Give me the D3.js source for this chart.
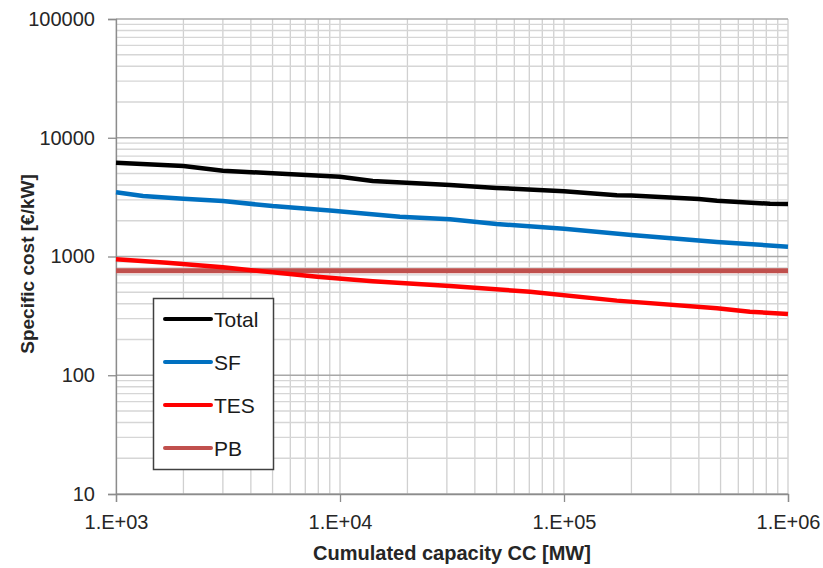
<!DOCTYPE html>
<html>
<head>
<meta charset="utf-8">
<script src="https://cdn.jsdelivr.net/npm/d3@7"></script>
<style>
  body { margin: 0; background: #fff; }
  text { font-family: "Liberation Sans", Arial, sans-serif; }
</style>
</head>
<body>
<div id="container"></div>
<script>
// data (x: cumulated capacity MW, y: cost EUR/kW)
var totalX = [1000, 2000, 3000, 5000, 10000, 14000, 31000, 50000, 100000, 172000, 200000, 400000, 482000, 832000, 1000000];
var totalY = [6170, 5790, 5280, 5020, 4700, 4330, 4000, 3780, 3540, 3280, 3270, 3050, 2950, 2780, 2770];
var sfX = [1000, 1320, 2000, 3000, 5000, 9300, 18500, 31000, 50000, 100000, 200000, 482000, 1000000];
var sfY = [3470, 3230, 3070, 2930, 2660, 2430, 2160, 2060, 1880, 1715, 1520, 1325, 1210];
var tesX = [1000, 1690, 3000, 5000, 7900, 14000, 31000, 70500, 172000, 482000, 676000, 1000000];
var tesY = [947, 887, 811, 736, 676, 618, 564, 505, 425, 366, 343, 328];
var pbX = [1000, 1000000];
var pbY = [760, 760];
var seriesNames = ['Total', 'SF', 'TES', 'PB'];
var seriesColors = ['#000000', '#0070c0', '#ff0000', '#c0504d'];
var xTickValues = [1e3, 1e4, 1e5, 1e6];
var xTickLabels = ['1.E+03', '1.E+04', '1.E+05', '1.E+06'];
var yTickValues = [10, 100, 1000, 10000, 100000];

var W = 823, H = 568;
var m = { left: 116, right: 35, top: 19, bottom: 74 };

var svg = d3.select('#container').append('svg')
  .attr('width', W).attr('height', H);

var x = d3.scaleLog().domain([1e3, 1e6]).range([m.left, W - m.right]);
var y = d3.scaleLog().domain([10, 1e5]).range([H - m.bottom, m.top]);

// minor grid values
var minorX = [], minorY = [];
for (var e = 3; e < 6; e++) for (var k = 2; k <= 9; k++) minorX.push(k * Math.pow(10, e));
for (var e = 1; e < 5; e++) for (var k = 2; k <= 9; k++) minorY.push(k * Math.pow(10, e));

var grid = svg.append('g');
grid.selectAll('line.mx').data(minorX.concat(xTickValues)).enter().append('line')
  .attr('x1', function(d) { return x(d); }).attr('x2', function(d) { return x(d); })
  .attr('y1', y(1e5)).attr('y2', y(10))
  .attr('stroke', '#d0d0d0').attr('stroke-width', 1.3);
grid.selectAll('line.my').data(minorY).enter().append('line')
  .attr('y1', function(d) { return y(d); }).attr('y2', function(d) { return y(d); })
  .attr('x1', x(1e3)).attr('x2', x(1e6))
  .attr('stroke', '#d6d6d6').attr('stroke-width', 1.3);
grid.selectAll('line.My').data(yTickValues).enter().append('line')
  .attr('y1', function(d) { return y(d); }).attr('y2', function(d) { return y(d); })
  .attr('x1', x(1e3)).attr('x2', x(1e6))
  .attr('stroke', '#a8a8a8').attr('stroke-width', 1.3);

// axes
var xAxis = d3.axisBottom(x).tickValues(xTickValues)
  .tickFormat(function(d, i) { return xTickLabels[i]; }).tickSize(8).tickPadding(10);
var yAxis = d3.axisLeft(y).tickValues(yTickValues)
  .tickFormat(d3.format('d')).tickSize(8).tickPadding(13);

var gx = svg.append('g').attr('transform', 'translate(0,' + y(10) + ')').call(xAxis);
var gy = svg.append('g').attr('transform', 'translate(' + x(1e3) + ',0)').call(yAxis);
[gx, gy].forEach(function(g) {
  g.select('.domain').attr('stroke', '#8c8c8c').attr('stroke-width', 1.3);
  g.selectAll('.tick line').attr('stroke', '#8c8c8c').attr('stroke-width', 1.3);
  g.selectAll('.tick text').attr('fill', '#262626').style('font-size', '20px');
});
gx.selectAll('.tick text').attr('dy', '0.85em');

// series
var seriesData = [
  d3.zip(totalX, totalY), d3.zip(sfX, sfY), d3.zip(tesX, tesY), d3.zip(pbX, pbY)
];
var line = d3.line().x(function(d) { return x(d[0]); }).y(function(d) { return y(d[1]); });
svg.selectAll('path.series').data([3, 2, 1, 0]).enter().append('path')
  .attr('d', function(i) { return line(seriesData[i]); })
  .attr('fill', 'none')
  .attr('stroke', function(i) { return seriesColors[i]; })
  .attr('stroke-width', function(i) { return i == 3 ? 5 : 4.5; });

// legend
var leg = svg.append('g');
leg.append('rect').attr('x', 153.5).attr('y', 298.5).attr('width', 120).attr('height', 171)
  .attr('fill', '#fff').attr('stroke', '#404040').attr('stroke-width', 1.5);
var legY = [319, 362, 405, 448];
seriesNames.forEach(function(n, i) {
  leg.append('line').attr('x1', 165).attr('x2', 211)
    .attr('y1', legY[i]).attr('y2', legY[i])
    .attr('stroke', seriesColors[i]).attr('stroke-width', 4).attr('stroke-linecap', 'round');
  leg.append('text').attr('x', 214).attr('y', legY[i]).attr('dy', '0.36em')
    .style('font-size', '21px').attr('fill', '#1a1a1a').text(n);
});

// axis titles
svg.append('text').attr('x', (x(1e3) + x(1e6)) / 2).attr('y', 560)
  .attr('text-anchor', 'middle').style('font-size', '20px').style('font-weight', 'bold')
  .attr('fill', '#262626').text('Cumulated capacity CC [MW]');
svg.append('text').attr('transform', 'translate(34,' + 264 + ') rotate(-90)')
  .attr('text-anchor', 'middle').style('font-size', '19px').style('font-weight', 'bold')
  .attr('fill', '#262626').text('Specific cost [€/kW]');
</script>
</body>
</html>
